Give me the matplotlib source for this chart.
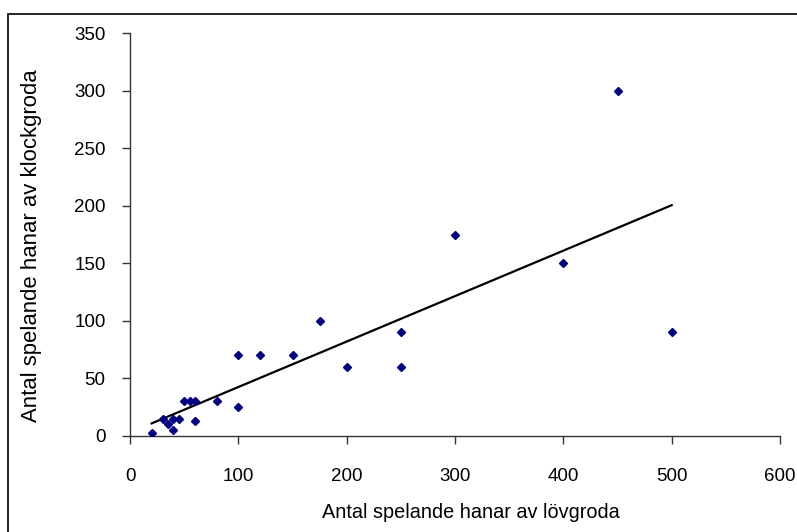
import numpy as np
import matplotlib.pyplot as plt
from matplotlib.patches import Rectangle

plt.rcParams.update({'font.size': 13.5, 'font.family': ['Liberation Sans', 'DejaVu Sans']})

# antal spelande hanar: lövgroda (x) och klockgroda (y)
lovgroda = [20, 30, 35, 40, 40, 45, 50, 55, 60, 60, 80, 100, 100, 120, 150,
            175, 200, 250, 250, 300, 400, 450, 500]
klockgroda = [3, 15, 10, 15, 5, 15, 30, 30, 30, 13, 30, 70, 25, 70, 70,
              100, 60, 90, 60, 175, 150, 300, 90]

x = np.array(lovgroda)
y = np.array(klockgroda)
k, m = np.polyfit(x, y, 1)
xl = np.array([x.min(), x.max()])

fig = plt.figure(figsize=(7.97, 5.32), dpi=100)
ax = fig.add_axes([130/797, 1-436/532, 650/797, 403/532])

ax.plot(x, y, 'D', color='#000080', markersize=4, zorder=3)
ax.plot(xl, k*xl + m, 'k-', lw=1.6)

ax.set_xlim(0, 600)
ax.set_ylim(0, 350)
ax.set_xticks(range(0, 601, 100))
ax.set_yticks(range(0, 351, 50))
ax.spines['top'].set_visible(False)
ax.spines['right'].set_visible(False)
for s in ['left', 'bottom']:
    ax.spines[s].set_linewidth(1.0)
    ax.spines[s].set_color('#333333')
ax.tick_params(direction='out', length=6, width=1, colors='#333333', labelcolor='black')
ax.tick_params(axis='x', pad=17)
ax.tick_params(axis='y', pad=11.5)

ax.set_xlabel('Antal spelande hanar av lövgroda', fontsize=14.3, va='center')
ax.xaxis.set_label_coords(0.525, -0.191)
ax.set_ylabel('Antal spelande hanar av klockgroda', fontsize=15.9, va='center')
ax.yaxis.set_label_coords(-0.1523, 0.4727)

fig.patches.append(Rectangle((8/797, -0.1), 1.2, 1.1 - 14/532, transform=fig.transFigure,
                             fill=False, edgecolor='black', lw=1.2))

plt.savefig('out.png')
